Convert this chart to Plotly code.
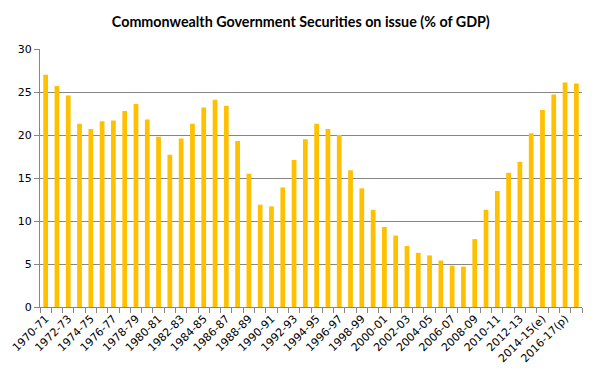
import plotly.graph_objects as go

categories = [
    "1970-71", "1971-72", "1972-73", "1973-74", "1974-75", "1975-76", "1976-77", "1977-78",
    "1978-79", "1979-80", "1980-81", "1981-82", "1982-83", "1983-84", "1984-85", "1985-86",
    "1986-87", "1987-88", "1988-89", "1989-90", "1990-91", "1991-92", "1992-93", "1993-94",
    "1994-95", "1995-96", "1996-97", "1997-98", "1998-99", "1999-00", "2000-01", "2001-02",
    "2002-03", "2003-04", "2004-05", "2005-06", "2006-07", "2007-08", "2008-09", "2009-10",
    "2010-11", "2011-12", "2012-13", "2013-14", "2014-15(e)", "2015-16(e)", "2016-17(p)", "2017-18(p)",
]
values = [
    27.0, 25.7, 24.6, 21.3, 20.7, 21.6, 21.7, 22.8,
    23.6, 21.8, 19.8, 17.7, 19.6, 21.3, 23.2, 24.1,
    23.4, 19.3, 15.5, 11.9, 11.7, 13.9, 17.1, 19.5,
    21.3, 20.7, 20.0, 15.9, 13.8, 11.3, 9.3, 8.3,
    7.1, 6.3, 6.0, 5.4, 4.8, 4.7, 7.9, 11.3,
    13.5, 15.6, 16.9, 20.2, 22.9, 24.7, 26.1, 26.0,
]
y_ticks = [0, 5, 10, 15, 20, 25, 30]

x_idx = list(range(len(categories)))
label_idx = x_idx[::2]
label_text = [categories[i] for i in label_idx]
boundaries = [i - 0.5 for i in range(len(categories) + 1)]

fig = go.Figure(
    go.Bar(x=x_idx, y=values, marker=dict(color="#FFC000", line=dict(width=0)), width=0.42)
)

# page body has an 8px margin; figure is sized/margined to compensate
fig.update_layout(
    width=594, height=371,
    margin=dict(l=32, r=20, t=41, b=72),
    paper_bgcolor="white", plot_bgcolor="white",
    showlegend=False,
    title=dict(
        text="<b>Commonwealth Government Securities on issue (% of GDP)</b>",
        x=0.493, xanchor="center", y=0.962, yanchor="middle",
        font=dict(family="Lato", size=14.3, color="black"),
    ),
    font=dict(family="DejaVu Sans", size=11, color="black"),
)

fig.update_xaxes(
    type="linear", range=[-0.5, len(categories) - 0.5],
    tickmode="array", tickvals=label_idx, ticktext=label_text,
    tickangle=-45, ticks="", showgrid=False,
    showline=True, linecolor="#868686", linewidth=1,
    tickfont=dict(family="DejaVu Sans", size=11, color="black"),
    minor=dict(tickmode="array", tickvals=boundaries, ticks="outside", ticklen=5,
               tickcolor="#868686", showgrid=False),
    zeroline=False, automargin=False,
)
fig.update_yaxes(
    range=[0, 30], tickmode="array", tickvals=y_ticks,
    ticks="outside", ticklen=5, tickcolor="#868686",
    showline=True, linecolor="#868686", linewidth=1,
    showgrid=True, gridcolor="#868686", gridwidth=1,
    zeroline=False, automargin=False,
    tickfont=dict(family="DejaVu Sans", size=11, color="black"),
)

fig.write_html("out.html")
